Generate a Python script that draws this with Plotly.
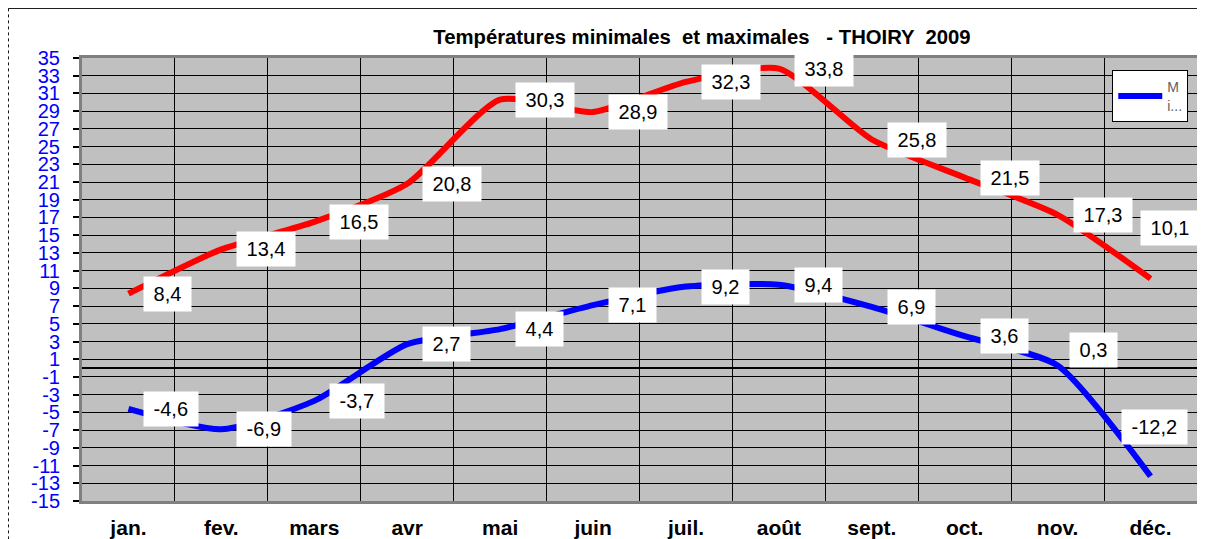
import plotly.graph_objects as go

months = ["jan.", "fev.", "mars", "avr", "mai", "juin", "juil.", "août", "sept.", "oct.", "nov.", "déc."]
t_max = [8.4, 13.4, 16.5, 20.8, 30.3, 28.9, 32.3, 33.8, 25.8, 21.5, 17.3, 10.1]
t_min = [-4.6, -6.9, -3.7, 2.7, 4.4, 7.1, 9.2, 9.4, 6.9, 3.6, 0.3, -12.2]
y_ticks = list(range(-15, 36, 2))
y_tick_text = [str(v) for v in y_ticks]

# label offsets (pixels) for data labels: default right of point
max_shift = {11: (-11, 51)}
min_shift = {10: (11, 15), 11: (-30, 49)}

FONT = "Arial, Liberation Sans, sans-serif"
NB = "\u00a0"

fig = go.Figure()
fig.add_trace(go.Scatter(
    x=months, y=t_max, mode="lines", name="Maximales",
    line=dict(color="#FF0000", width=6, shape="spline", smoothing=0.6),
    showlegend=False))
fig.add_trace(go.Scatter(
    x=months, y=t_min, mode="lines", name="M<br>i...",
    line=dict(color="#0000FF", width=6, shape="spline", smoothing=0.6),
    showlegend=True))

def fmt(v):
    return ("%.1f" % v).replace(".", ",")

ann = []
for series, shifts in ((t_max, max_shift), (t_min, min_shift)):
    for i, (m, v) in enumerate(zip(months, series)):
        xs, ys = shifts.get(i, (15, 0))
        ann.append(dict(
            x=m, y=v, xref="x", yref="y", text=NB + fmt(v) + NB,
            showarrow=False, xanchor="left", yanchor="middle",
            xshift=xs, yshift=ys, bgcolor="white", borderpad=4, height=26,
            font=dict(family=FONT, size=20, color="black")))

# page has an 8px body margin: figure is offset by (8, 8)
W, H = 1197, 531
fig.update_layout(
    width=W, height=H,
    margin=dict(l=74, r=8, t=50, b=38, autoexpand=False),
    paper_bgcolor="white", plot_bgcolor="#C0C0C0",
    title=dict(text="<b>Températures minimales  et maximales   - THOIRY  2009</b>",
               x=694 / W, xanchor="center", xref="container",
               y=1 - 29 / H, yanchor="middle", yref="container",
               font=dict(family=FONT, size=20.3, color="black")),
    annotations=ann,
    showlegend=True,
    legend=dict(x=0.924, y=0.972, xanchor="left", yanchor="top",
                bgcolor="white", bordercolor="black", borderwidth=1,
                font=dict(family=FONT, size=14, color="#606060"),
                itemwidth=44),
    shapes=[
        dict(type="line", xref="paper", yref="paper", x0=-0.066, x1=1.01,
             y0=1.112, y1=1.112, line=dict(color="black", width=1)),
        dict(type="line", xref="paper", yref="paper", x0=-0.066, x1=-0.066,
             y0=1.112, y1=-0.09, line=dict(color="black", width=1, dash="dot")),
    ],
)
fig.update_xaxes(
    type="category", range=[-0.5, 11.5], tickson="boundaries", automargin=False,
    showgrid=True, gridcolor="black", gridwidth=1,
    ticks="", ticklabelstandoff=6,
    tickfont=dict(family=FONT, size=21, color="black", weight="bold"),
    showline=True, linecolor="#808080", linewidth=3, mirror=True)
fig.update_yaxes(
    range=[-15, 35], tickmode="array", tickvals=y_ticks, ticktext=y_tick_text,
    automargin=False,
    showgrid=True, gridcolor="black", gridwidth=1,
    zeroline=True, zerolinecolor="black", zerolinewidth=2,
    ticks="outside", ticklen=6, tickcolor="black", tickwidth=2,
    ticklabelstandoff=9,
    tickfont=dict(family=FONT, size=20, color="#0000FF"),
    showline=True, linecolor="#808080", linewidth=3, mirror=True)

fig.write_html("out.html")
